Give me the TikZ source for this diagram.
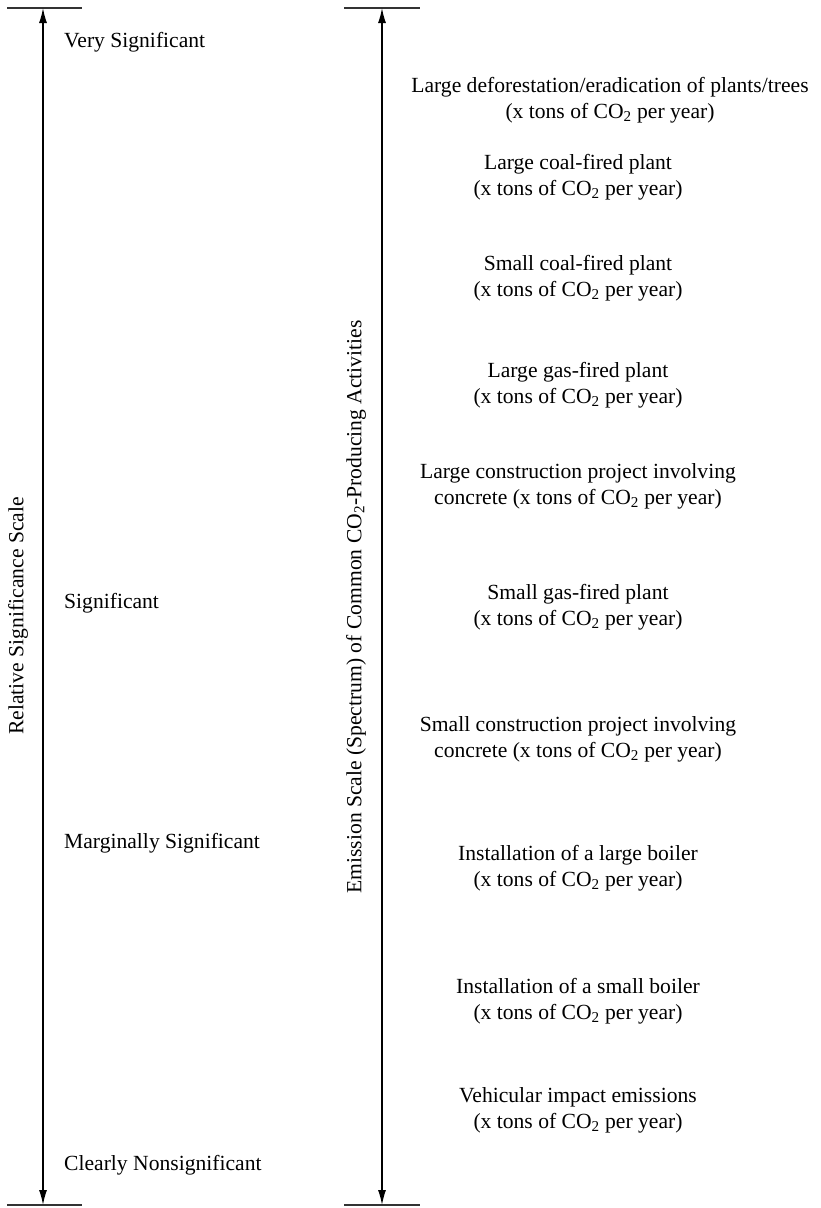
\documentclass[tikz,border=0pt]{standalone}
\usepackage{fontspec}
\setmainfont{Liberation Serif}
\usetikzlibrary{arrows.meta}
\newcommand{\cotwo}{CO\textsubscript{2}}
\newcommand{\perYear}{(x tons of \cotwo{} per year)}
\begin{document}
\begin{tikzpicture}[x=1pt,y=-1pt,
  every node/.style={font=\fontsize{21.6}{25.8}\selectfont, inner sep=0pt},
  bar/.style={line width=1.2pt, draw=black!80},
  axis/.style={line width=1.3pt, {Latex[length=15pt,width=8pt]}-{Latex[length=15pt,width=8pt]}},
  level/.style={anchor=west},
  activity/.style={align=center},
  axlabel/.style={rotate=90}]
\useasboundingbox (0,0) rectangle (821,1208);

% left scale
\coordinate (lt) at (43,8);
\coordinate (lb) at (43,1205);
\coordinate (ltl) at (7,8);  \coordinate (ltr) at (82,8);
\coordinate (lbl) at (7,1205); \coordinate (lbr) at (82,1205);
\draw[bar] (ltl) -- (ltr);
\draw[bar] (lbl) -- (lbr);
\draw[axis] (lt) -- (lb);
\node[axlabel] (lscale) at (18,616) {Relative Significance Scale};

\node[level] (vs) at (64,42) {Very Significant};
\node[level] (sg) at (64,603) {Significant};
\node[level] (ms) at (64,843) {Marginally Significant};
\node[level] (cn) at (64,1165) {Clearly Nonsignificant};

% right scale
\coordinate (rt) at (382,8);
\coordinate (rb) at (382,1205);
\coordinate (rtl) at (344,8);  \coordinate (rtr) at (420,8);
\coordinate (rbl) at (344,1205); \coordinate (rbr) at (420,1205);
\draw[bar] (rtl) -- (rtr);
\draw[bar] (rbl) -- (rbr);
\draw[axis] (rt) -- (rb);
\node[axlabel] (rscale) at (356,607) {Emission Scale (Spectrum) of Common \cotwo-Producing Activities};

% activities
\node[activity] (a1) at (610,100) {Large deforestation/eradication of plants/trees\\\perYear};
\node[activity] (a2) at (578,177) {Large coal-fired plant\\\perYear};
\node[activity] (a3) at (578,278) {Small coal-fired plant\\\perYear};
\node[activity] (a4) at (578,385) {Large gas-fired plant\\\perYear};
\node[activity] (a5) at (578,486) {Large construction project involving\\concrete \perYear};
\node[activity] (a6) at (578,607) {Small gas-fired plant\\\perYear};
\node[activity] (a7) at (578,739) {Small construction project involving\\concrete \perYear};
\node[activity] (a8) at (578,868) {Installation of a large boiler\\\perYear};
\node[activity] (a9) at (578,1001) {Installation of a small boiler\\\perYear};
\node[activity] (a10) at (578,1110) {Vehicular impact emissions\\\perYear};
\end{tikzpicture}
\end{document}
